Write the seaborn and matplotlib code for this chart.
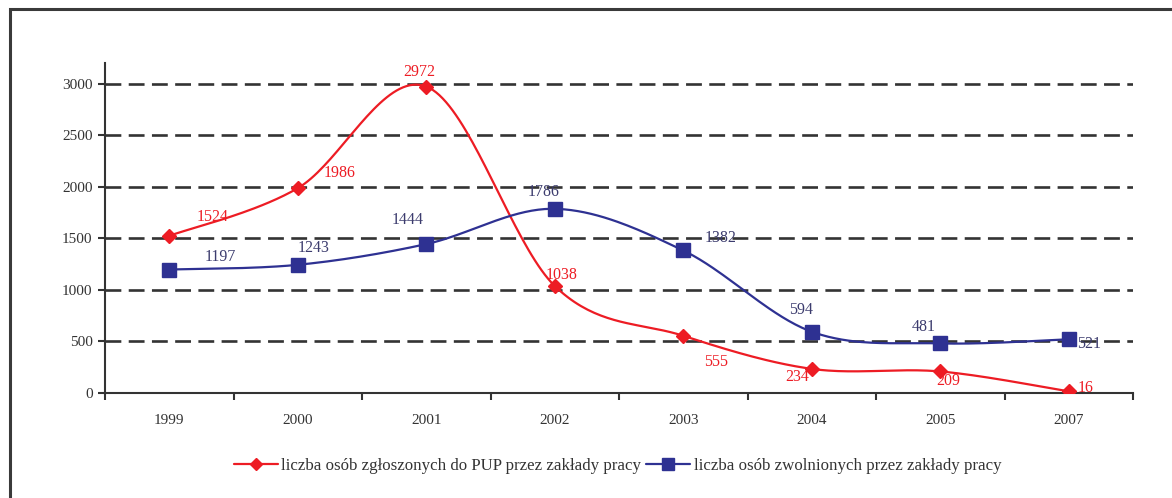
import matplotlib
matplotlib.use("Agg")
import matplotlib.pyplot as plt
import numpy as np
import pandas as pd
import seaborn as sns
from matplotlib.patches import Rectangle
from matplotlib.lines import Line2D

# Data
years = ["1999", "2000", "2001", "2002", "2003", "2004", "2005", "2007"]
zgloszone = [1524, 1986, 2972, 1038, 555, 234, 209, 16]
zwolnione = [1197, 1243, 1444, 1786, 1382, 594, 481, 521]
label_zgl = "liczba osób zgłoszonych do PUP przez zakłady pracy"
label_zwo = "liczba osób zwolnionych przez zakłady pracy"

# label offsets (pixels, x right / y up) for the value annotations
off_zgl = [(43, 19), (42, 15), (-7, 15), (7, 11), (33, -26), (-15, -8), (8, -10), (17, 3)]
off_zwo = [(51, 13), (16, 17), (-19, 24), (-11, 17), (37, 12), (-11, 22), (-17, 16), (20, -5)]

RED = "#ED1C24"
BLUE = "#2E3192"
BLUE_TXT = "#3C3C6E"
GREY = "#333333"


def smooth(xs, ys, n=40):
    # Excel-style smoothed line (Catmull-Rom as cubic Bezier)
    p = np.column_stack([xs, ys]).astype(float)
    p = np.vstack([p[0], p, p[-1]])
    out = []
    for i in range(1, len(p) - 2):
        p0, p1, p2, p3 = p[i], p[i] + (p[i + 1] - p[i - 1]) / 6, p[i + 1] - (p[i + 2] - p[i]) / 6, p[i + 1]
        t = np.linspace(0, 1, n)[:, None]
        seg = (1 - t) ** 3 * p0 + 3 * (1 - t) ** 2 * t * p1 + 3 * (1 - t) * t ** 2 * p2 + t ** 3 * p3
        out.append(seg if i == 1 else seg[1:])
    out = np.vstack(out)
    return out[:, 0], out[:, 1]


sns.set_theme(style="white")
plt.rcParams["font.family"] = ["Liberation Serif", "DejaVu Serif"]

fig = plt.figure(figsize=(11.72, 4.98), dpi=100)
ax = fig.add_axes([105 / 1172, 1 - 393 / 498, (1133 - 105) / 1172, (393 - 63) / 498])

x = np.arange(len(years))
df = pd.DataFrame({"x": x, "year": years, "zgl": zgloszone, "zwo": zwolnione})

for col, color, marker, ms in [("zgl", RED, "D", 7.5), ("zwo", BLUE, "s", 10.5)]:
    sx, sy = smooth(df["x"], df[col])
    sns.lineplot(x=sx, y=sy, sort=False, estimator=None, color=color, lw=1.6, ax=ax, zorder=3)
    ax.plot(df["x"], df[col], linestyle="none", marker=marker, ms=ms, color=color,
            markeredgecolor=color, zorder=4)

for i, v in enumerate(zgloszone):
    ax.annotate(str(v), (x[i], v), xytext=off_zgl[i], textcoords="offset pixels",
                ha="center", va="center", color=RED, fontsize=11.5, zorder=5)
for i, v in enumerate(zwolnione):
    ax.annotate(str(v), (x[i], v), xytext=off_zwo[i], textcoords="offset pixels",
                ha="center", va="center", color=BLUE_TXT, fontsize=11.5, zorder=5)

ax.set_xlim(-0.5, len(years) - 0.5)
ax.set_ylim(0, 3200)
ax.set_yticks(range(0, 3001, 500))
ax.set_xticks(np.arange(-0.5, len(years), 1.0))
ax.set_xticklabels([])
ax.set_xticks(x, minor=True)
ax.set_xticklabels(years, minor=True)
ax.tick_params(axis="x", which="major", direction="out", length=5, width=1.5, color=GREY, bottom=True)
ax.tick_params(axis="x", which="minor", length=0, pad=15, labelsize=11, labelcolor=GREY)
ax.tick_params(axis="y", direction="out", length=5, width=1.5, color=GREY, left=True,
               labelsize=11, labelcolor=GREY, pad=4)

ax.yaxis.grid(True, color=GREY, linestyle=(0, (6, 2.8)), linewidth=1.9)
ax.xaxis.grid(False)
ax.set_axisbelow(True)
for s in ["top", "right"]:
    ax.spines[s].set_visible(False)
for s in ["left", "bottom"]:
    ax.spines[s].set_color(GREY)
    ax.spines[s].set_linewidth(1.5)
ax.set_xlabel("")
ax.set_ylabel("")

handles = [
    Line2D([], [], color=RED, lw=1.6, marker="D", ms=6),
    Line2D([], [], color=BLUE, lw=1.6, marker="s", ms=8),
]
fig.legend(handles, [label_zgl, label_zwo], loc="center", bbox_to_anchor=(0.527, 1 - 466 / 498),
           ncol=2, frameon=False, fontsize=12.2, handlelength=2.6, handletextpad=0.2,
           columnspacing=0.3, labelcolor=GREY)

fig.patches.append(Rectangle((10 / 1172, -0.1), 1.5, 1.1 - 9 / 498, transform=fig.transFigure,
                             fill=False, edgecolor="#3a3a3a", linewidth=2.2, zorder=0))

fig.savefig("out.png", dpi=100)
